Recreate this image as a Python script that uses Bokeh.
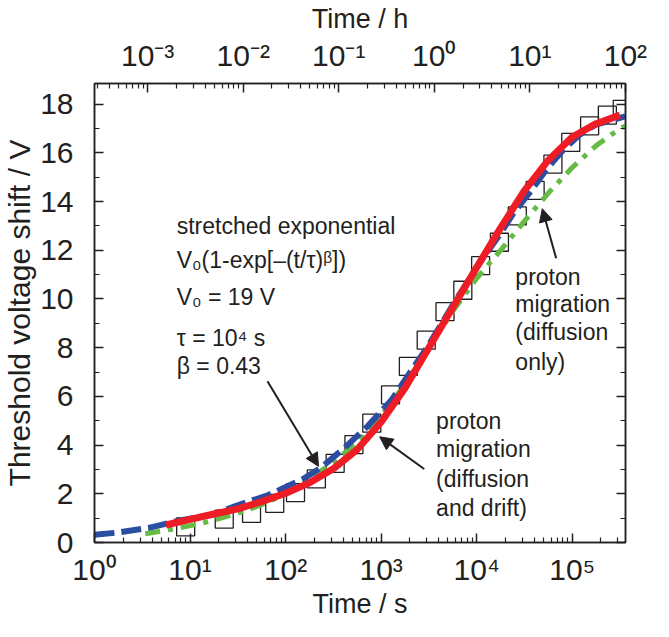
from bokeh.plotting import figure
from bokeh.models import (LogAxis, LinearAxis, FixedTicker, Range1d, LogScale,
                          Arrow, NormalHead, Label)
from bokeh.embed import file_html
from bokeh.resources import INLINE

# ---------------- data ----------------
sq_t = [9.0, 22.8, 44, 77, 127, 210, 330, 519, 798, 1254, 1928, 2963, 4660,
        7160, 11000, 17300, 26600, 40900, 62800, 96500, 152000, 233000, 334000]
sq_v = [0.64, 0.96, 1.20, 1.61, 2.05, 2.61, 3.25, 4.02, 4.90, 6.06, 7.23, 8.31,
        9.48, 10.36, 11.37, 12.33, 13.41, 14.46, 15.54, 16.43, 17.11, 17.55, 17.79]

red_t = [5.6, 10, 17.8, 31.6, 56.2, 100, 178, 316, 562, 1000, 1780, 3160, 5620,
         10000, 17800, 31600, 56200, 100000, 178000, 316000]
red_v = [0.72, 0.95, 1.17, 1.38, 1.68, 2.02, 2.45, 3.03, 3.82, 4.95, 6.35, 8.0,
         9.65, 11.3, 12.92, 14.45, 15.7, 16.65, 17.2, 17.55]

blue_t = [1.0, 1.66, 3.7, 8.1, 17.8, 30, 66, 151, 240, 417, 724, 1290, 1860, 3020,
          5620, 10000, 17800, 24000, 36300, 53100, 79400, 120000, 174000, 360000]
blue_v = [0.32, 0.40, 0.60, 0.92, 1.16, 1.50, 1.95, 2.60, 3.10, 3.90, 4.78, 5.86,
          6.79, 8.0, 9.75, 11.3, 12.7, 13.5, 14.4, 15.3, 16.1, 16.75, 17.15, 17.5]

green_t = [3.4, 6.0, 12.3, 17.8, 31.6, 56.2, 100, 178, 316, 562, 1000, 1780, 3160,
           5620, 10000, 17800, 31600, 56200, 100000, 178000, 316000, 360000]
green_v = [0.36, 0.52, 0.76, 0.92, 1.2, 1.55, 2.0, 2.6, 3.3, 4.1, 5.2, 6.5, 8.0,
           9.5, 10.85, 12.0, 13.2, 14.35, 15.4, 16.3, 17.0, 17.1]

x_ticks = [1, 10, 100, 1000, 10000, 100000]
x_tick_labels = ["10⁰", "10¹", "10²", "10³", "10⁴", "10⁵"]
h_ticks = [0.001, 0.01, 0.1, 1, 10, 100]
h_tick_labels = ["10⁻³", "10⁻²", "10⁻¹", "10⁰", "10¹", "10²"]
y_ticks = [0, 2, 4, 6, 8, 10, 12, 14, 16, 18]
y_minor = [1, 3, 5, 7, 9, 11, 13, 15, 17]

FONT = "Liberation Sans"
INK = "#231f20"

p = figure(width=653, height=621, x_axis_type="log",
           x_range=Range1d(1, 3.61e5), y_range=Range1d(0, 18.85),
           output_backend="svg", toolbar_location=None,
           min_border_left=89, min_border_right=28, min_border_top=79,
           min_border_bottom=74,
           x_axis_label="Time / s", y_axis_label="Threshold voltage shift / V")
p.grid.visible = False
p.outline_line_color = INK
p.outline_line_width = 1.5

x_minor = [m * 10 ** k for k in range(0, 6) for m in range(2, 10)]
h_minor = [m * 10.0 ** k for k in range(-4, 3) for m in range(2, 10)]

p.extra_x_ranges = {"h": Range1d(1 / 3600, 3.61e5 / 3600)}
p.extra_x_scales = {"h": LogScale()}
top = LogAxis(x_range_name="h", axis_label="Time / h")
p.add_layout(top, "above")
right = LinearAxis()
p.add_layout(right, "right")

xa = p.below[0]
ya = p.left[0]
xa.ticker = FixedTicker(ticks=x_ticks, minor_ticks=x_minor)
xa.major_label_overrides = dict(zip(x_ticks, x_tick_labels))
top.ticker = FixedTicker(ticks=h_ticks, minor_ticks=h_minor)
top.major_label_overrides = dict(zip(h_ticks, h_tick_labels))
ya.ticker = FixedTicker(ticks=y_ticks, minor_ticks=y_minor)
right.ticker = FixedTicker(ticks=y_ticks, minor_ticks=y_minor)
right.major_label_text_color = None
right.major_label_standoff = 0

for ax in [xa, top, ya, right]:
    ax.axis_line_color = INK
    ax.axis_line_width = 1.5
    ax.major_tick_line_color = INK
    ax.minor_tick_line_color = INK
    ax.major_tick_line_width = 1.5
    ax.minor_tick_line_width = 1.2
    ax.major_tick_in = 9
    ax.major_tick_out = 0
    ax.minor_tick_in = 5
    ax.minor_tick_out = 0
    ax.major_label_text_font = FONT
    ax.axis_label_text_font = FONT
    ax.axis_label_text_font_style = "normal"
    ax.axis_label_text_color = INK

for ax in [xa, top, ya]:
    ax.major_label_text_color = INK
    ax.major_label_text_font_size = "30px"
    ax.axis_label_text_font_size = "27px"
ya.axis_label_text_font_size = "30px"
xa.major_label_standoff = 10
xa.axis_label_standoff = 0
top.major_label_standoff = 12
top.axis_label_standoff = 2
ya.major_label_standoff = 21
ya.axis_label_standoff = 1

# data
p.scatter(sq_t, sq_v, marker="square", size=18, fill_color=None,
          line_color=INK, line_width=1.3)
p.line(green_t, green_v, line_color="#66bb44", line_width=5,
       line_dash="15 8 5 8")
p.line(blue_t, blue_v, line_color="#2b4ea2", line_width=6, line_dash="20 7")
p.line(red_t, red_v, line_color="#ee1c25", line_width=7)

# annotations
def lab(x, y, t):
    p.add_layout(Label(x=x, y=y, text=t, text_font=FONT, text_font_size="23px",
                       text_color=INK, text_baseline="middle", text_align="left"))

for t, y in [("stretched exponential", 13.0),
             ("V₀(1-exp[–(t/τ)ᵝ])", 11.6),
             ("V₀ = 19 V", 10.1),
             ("τ = 10⁴ s", 8.4),
             ("β = 0.43", 7.26)]:
    lab(7.25, y, t)
for t, y in [("proton", 10.89), ("migration", 9.8), ("(diffusion", 8.63),
             (" only)", 7.42)]:
    lab(25400, y, t)
for t, y in [("proton", 5.0), ("migration", 3.83), ("(diffusion", 2.62),
             (" and drift)", 1.41)]:
    lab(3760, y, t)

for xs, ys, xe, ye in [(64.6, 6.62, 221, 3.13), (2825, 3.02, 965, 4.34),
                       (67900, 11.67, 48600, 13.71)]:
    p.add_layout(Arrow(end=NormalHead(size=13, fill_color=INK, line_color=INK),
                       x_start=xs, y_start=ys, x_end=xe, y_end=ye,
                       line_color=INK, line_width=2))

open("out.html", "w").write(file_html(p, INLINE))
